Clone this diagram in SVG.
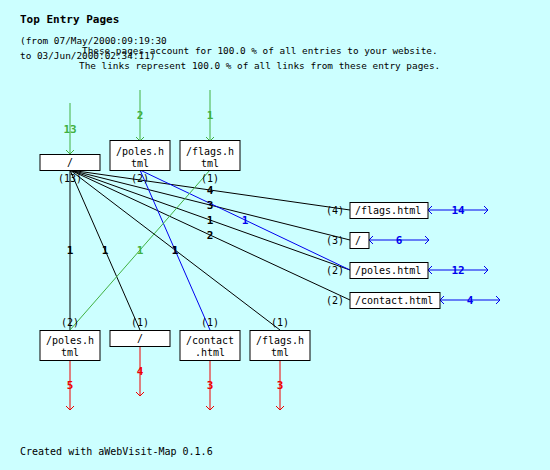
<svg xmlns="http://www.w3.org/2000/svg" width="550" height="470" viewBox="0 0 550 470">
<defs>
<style>
text{font-family:"DejaVu Sans Mono","Liberation Mono",monospace;font-size:10px;fill:#000}
.t{font-weight:bold;font-size:11px}
.h{font-size:9.4px}
.c{text-anchor:middle}
.e{text-anchor:end}
.lb{font-weight:bold;font-size:11px;text-anchor:middle}
.box{fill:#fff;stroke:#000;stroke-width:1}
.k{stroke:#000;stroke-width:1;fill:none}
.g{stroke:#40b040;stroke-width:1;fill:none}
.b{stroke:#0000ee;stroke-width:1;fill:none}
.r{stroke:#ee0000;stroke-width:1;fill:none}
</style>
<marker id="ag" markerUnits="userSpaceOnUse" markerWidth="10" markerHeight="10" refX="5" refY="5" orient="auto"><path d="M1,1 L5,5 L1,9" fill="none" stroke="#40b040"/></marker>
<marker id="ar" markerUnits="userSpaceOnUse" markerWidth="10" markerHeight="10" refX="5" refY="5" orient="auto"><path d="M1,1 L5,5 L1,9" fill="none" stroke="#ee0000"/></marker>
<marker id="ab" markerUnits="userSpaceOnUse" markerWidth="10" markerHeight="10" refX="5" refY="5" orient="auto-start-reverse"><path d="M1,1 L5,5 L1,9" fill="none" stroke="#0000ee"/></marker>
</defs>
<rect width="550" height="470" fill="#ccffff"/>
<text class="t" x="20" y="23">Top Entry Pages</text>
<text class="h" x="20" y="44">(from 07/May/2000:09:19:30</text>
<text class="h" x="20" y="59">to 03/Jun/2000:02:34:11)</text>
<text class="h" x="82" y="54">These pages account for 100.0 % of all entries to your website.</text>
<text class="h" x="79" y="69">The links represent 100.0 % of all links from these entry pages.</text>

<g id="connectors">
<line class="k" x1="70" y1="170" x2="350" y2="210"/>
<line class="k" x1="70" y1="170" x2="350" y2="240"/>
<line class="k" x1="70" y1="170" x2="350" y2="270"/>
<line class="k" x1="70" y1="170" x2="350" y2="300"/>
<line class="k" x1="70" y1="170" x2="70" y2="330"/>
<line class="k" x1="70" y1="170" x2="140" y2="330"/>
<line class="k" x1="70" y1="170" x2="280" y2="330"/>
<line class="b" x1="140" y1="170" x2="350" y2="270"/>
<line class="b" x1="140" y1="170" x2="210" y2="330"/>
<line class="g" x1="210" y1="170" x2="70" y2="330"/>
<line class="g" x1="70" y1="103" x2="70" y2="154" marker-end="url(#ag)"/>
<line class="g" x1="140" y1="90" x2="140" y2="141" marker-end="url(#ag)"/>
<line class="g" x1="210" y1="90" x2="210" y2="141" marker-end="url(#ag)"/>
<line class="r" x1="70" y1="360" x2="70" y2="410" marker-end="url(#ar)"/>
<line class="r" x1="140" y1="346" x2="140" y2="396" marker-end="url(#ar)"/>
<line class="r" x1="210" y1="360" x2="210" y2="410" marker-end="url(#ar)"/>
<line class="r" x1="280" y1="360" x2="280" y2="410" marker-end="url(#ar)"/>
<line class="b" x1="428" y1="210" x2="488" y2="210" marker-start="url(#ab)" marker-end="url(#ab)"/>
<line class="b" x1="369" y1="240" x2="429" y2="240" marker-start="url(#ab)" marker-end="url(#ab)"/>
<line class="b" x1="428" y1="270" x2="488" y2="270" marker-start="url(#ab)" marker-end="url(#ab)"/>
<line class="b" x1="440" y1="300" x2="500" y2="300" marker-start="url(#ab)" marker-end="url(#ab)"/>
<g>
<text class="lb" x="70" y="133" style="fill:#40b040">13</text>
<text class="lb" x="140" y="119" style="fill:#40b040">2</text>
<text class="lb" x="210" y="119" style="fill:#40b040">1</text>
<text class="lb" x="210" y="194">4</text>
<text class="lb" x="210" y="209">3</text>
<text class="lb" x="210" y="224">1</text>
<text class="lb" x="210" y="239">2</text>
<text class="lb" x="245" y="224" style="fill:#0000ee">1</text>
<text class="lb" x="175" y="254" style="fill:#0000ee">1</text>
<text class="lb" x="70" y="254">1</text>
<text class="lb" x="105" y="254">1</text>
<text class="lb" x="175" y="254">1</text>
<text class="lb" x="140" y="254" style="fill:#40b040">1</text>
<text class="lb" x="70" y="389" style="fill:#ee0000">5</text>
<text class="lb" x="140" y="375" style="fill:#ee0000">4</text>
<text class="lb" x="210" y="389" style="fill:#ee0000">3</text>
<text class="lb" x="280" y="389" style="fill:#ee0000">3</text>
<text class="lb" x="458" y="214" style="fill:#0000ee">14</text>
<text class="lb" x="399" y="244" style="fill:#0000ee">6</text>
<text class="lb" x="458" y="274" style="fill:#0000ee">12</text>
<text class="lb" x="470" y="304" style="fill:#0000ee">4</text>
</g>
</g>

<g id="n-root-top"><rect class="box" x="40" y="154.5" width="60" height="16"/><text class="c" x="70" y="166">/</text><text class="c" x="70" y="182">(13)</text></g>
<g id="n-poles-top"><rect class="box" x="110" y="140.5" width="60" height="30"/><text class="c" x="140" y="155">/poles.h</text><text class="c" x="140" y="167">tml</text><text class="c" x="140" y="182">(2)</text></g>
<g id="n-flags-top"><rect class="box" x="180" y="140.5" width="60" height="30"/><text class="c" x="210" y="155">/flags.h</text><text class="c" x="210" y="167">tml</text><text class="c" x="210" y="182">(1)</text></g>

<g id="n-flags-right"><rect class="box" x="350" y="202.5" width="78" height="16"/><text x="355" y="214">/flags.html</text><text class="e" x="344" y="214">(4)</text></g>
<g id="n-root-right"><rect class="box" x="350" y="232.5" width="19" height="16"/><text x="355" y="244">/</text><text class="e" x="344" y="244">(3)</text></g>
<g id="n-poles-right"><rect class="box" x="350" y="262.5" width="78" height="16"/><text x="355" y="274">/poles.html</text><text class="e" x="344" y="274">(2)</text></g>
<g id="n-contact-right"><rect class="box" x="350" y="292.5" width="90" height="16"/><text x="355" y="304">/contact.html</text><text class="e" x="344" y="304">(2)</text></g>

<g id="n-poles-bottom"><rect class="box" x="40" y="330.5" width="60" height="30"/><text class="c" x="70" y="344">/poles.h</text><text class="c" x="70" y="356">tml</text><text class="c" x="70" y="326">(2)</text></g>
<g id="n-root-bottom"><rect class="box" x="110" y="330.5" width="60" height="16"/><text class="c" x="140" y="342">/</text><text class="c" x="140" y="326">(1)</text></g>
<g id="n-contact-bottom"><rect class="box" x="180" y="330.5" width="60" height="30"/><text class="c" x="210" y="344">/contact</text><text class="c" x="210" y="356">.html</text><text class="c" x="210" y="326">(1)</text></g>
<g id="n-flags-bottom"><rect class="box" x="250" y="330.5" width="60" height="30"/><text class="c" x="280" y="344">/flags.h</text><text class="c" x="280" y="356">tml</text><text class="c" x="280" y="326">(1)</text></g>

<text x="20" y="455">Created with aWebVisit-Map 0.1.6</text>
</svg>
